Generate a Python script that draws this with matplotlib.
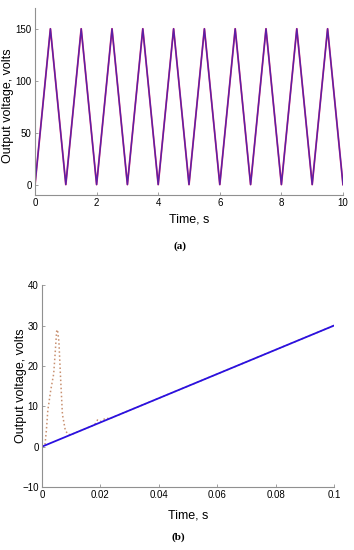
import matplotlib
matplotlib.use('Agg')
import matplotlib.pyplot as plt

# --- (a) triangle wave, reference and output overlap --------------------
T_A = [0, 0.5, 1, 1.5, 2, 2.5, 3, 3.5, 4, 4.5, 5, 5.5, 6, 6.5, 7, 7.5, 8, 8.5, 9, 9.5, 10]
V_A = [0, 150, 0, 150, 0, 150, 0, 150, 0, 150, 0, 150, 0, 150, 0, 150, 0, 150, 0, 150, 0]

# --- (b) ramp reference and transient output -----------------------------
T_REF = [0, 0.1]
V_REF = [0, 30]
T_OUT = [0, 0.001, 0.0015, 0.002, 0.003, 0.004, 0.0045, 0.005, 0.0053, 0.0058,
         0.0063, 0.007, 0.008, 0.009, 0.010, 0.012, 0.015, 0.018, 0.019, 0.020,
         0.021, 0.022, 0.023, 0.025, 0.03, 0.1]
V_OUT = [0, 0.3, 4, 9, 14, 18, 23, 28.5, 29, 26,
         18, 8, 4, 3, 3, 3.6, 4.5, 5.4, 6.6, 6.2,
         6.7, 7.1, 6.9, 7.5, 9, 30]

FONT = 'Liberation Sans'
plt.rcParams['font.family'] = FONT

fig = plt.figure(figsize=(3.54, 5.5), dpi=100, facecolor='white')

def style(ax):
    for s in ('top', 'right'):
        ax.spines[s].set_visible(False)
    for s in ('left', 'bottom'):
        ax.spines[s].set_color('#909090')
        ax.spines[s].set_linewidth(0.8)
    ax.tick_params(direction='in', length=2, width=0.6, color='#909090',
                   labelsize=7, pad=2.5, labelcolor='black')

ax1 = fig.add_axes([0.0989, 0.6455, 0.870, 0.340])
ax1.plot(T_A, V_A, color='#e0206a', lw=1.3)
ax1.plot(T_A, V_A, color='#2020c0', lw=1.0, alpha=0.7)
ax1.set_xlim(0, 10)
ax1.set_ylim(-10, 170)
ax1.set_xticks([0, 2, 4, 6, 8, 10])
ax1.set_yticks([0, 50, 100, 150])
ax1.set_xlabel('Time, s', fontsize=9)
ax1.set_ylabel('Output voltage, volts', fontsize=9)
ax1.xaxis.set_label_coords(0.5, -0.10)
ax1.yaxis.set_label_coords(-0.067, 0.48)
style(ax1)
fig.text(0.508, 1 - 246 / 550, '(a)', ha='center', va='center',
         fontsize=8, fontweight='bold', family='Liberation Serif')

ax2 = fig.add_axes([0.1186, 0.1145, 0.825, 0.367])
ax2.plot(T_OUT, V_OUT, color='#c89070', lw=1.1, ls=':')
ax2.plot(T_REF, V_REF, color='#2a10e0', lw=1.3)
ax2.set_xlim(0, 0.1)
ax2.set_ylim(-10, 40)
ax2.set_xticks([0, 0.02, 0.04, 0.06, 0.08, 0.1])
ax2.set_xticklabels(['0', '0.02', '0.04', '0.06', '0.08', '0.1'])
ax2.set_yticks([-10, 0, 10, 20, 30, 40])
ax2.set_xlabel('Time, s', fontsize=9)
ax2.set_ylabel('Output voltage, volts', fontsize=9)
ax2.xaxis.set_label_coords(0.5, -0.11)
ax2.yaxis.set_label_coords(-0.053, 0.5)
style(ax2)
fig.text(0.503, 1 - 537 / 550, '(b)', ha='center', va='center',
         fontsize=8, fontweight='bold', family='Liberation Serif')

fig.savefig('out.png', dpi=100, facecolor='white')
